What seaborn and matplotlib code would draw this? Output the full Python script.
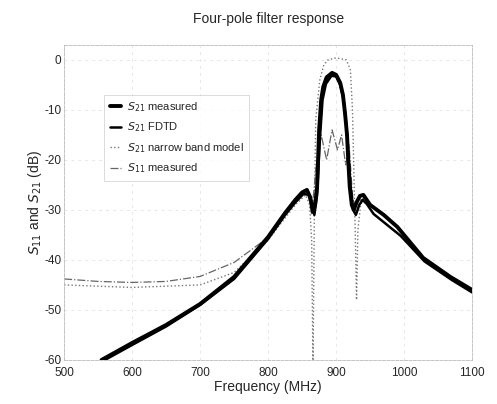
import numpy as np
import pandas as pd
import matplotlib
matplotlib.use("Agg")
import matplotlib.pyplot as plt
import seaborn as sns

# values (frequency in MHz, level in dB)
s21_meas_f = [555, 600, 650, 700, 750, 800, 825, 840, 850, 857, 862, 866, 869, 872, 875, 878, 881, 886,
              894, 900, 906, 910, 913, 916, 918, 920, 923, 926, 930, 935, 940, 950, 970, 990, 1028, 1068, 1100]
s21_meas_db = [-60, -56.6, -53, -48.8, -43.4, -35.4, -30.6, -28, -26.5, -26, -27.5, -30.4, -29, -25.4, -14, -8, -5.4, -3.5,
               -2.6, -3, -4.6, -7, -10.6, -15, -20.6, -25.4, -29, -30, -28.5, -27.2, -27, -29, -31, -33.4, -39.6, -43.4, -46]

s21_fdtd_f = [560, 600, 650, 700, 750, 800, 825, 840, 852, 860, 865, 868, 872, 876, 880, 885, 893, 900, 906,
              911, 915, 918, 921, 925, 929, 934, 939, 945, 955, 975, 995, 1030, 1070, 1100]
s21_fdtd_db = [-60, -57, -53.3, -49, -43.8, -35.8, -31, -28.5, -26.8, -27, -29.5, -31, -27, -16, -8, -4.8, -3.2, -3.3, -5,
               -8, -13, -19, -25, -30, -31, -29, -28, -28.8, -30.8, -33, -35.2, -40.3, -44, -46.5]

s21_model_f = [500, 600, 700, 750, 800, 840, 855, 861, 864, 866, 868, 870, 876, 882, 888, 900, 915, 921,
               924, 926, 928, 930, 932, 936, 942]
s21_model_db = [-45, -45.5, -45, -42.5, -36, -29, -27, -29, -36, -62, -30, -12, -4, -1, 0, 0.4, 0, -2,
                -10, -22, -34, -48, -34, -29, -27.5]

s11_meas_f = [500, 550, 600, 650, 700, 750, 780, 800, 820, 845, 858, 864, 870, 878, 886, 894, 902, 908,
              914, 919, 924, 929, 936, 945]
s11_meas_db = [-43.8, -44.3, -44.5, -44.3, -43.3, -40.5, -37.5, -35.5, -31.5, -27.2, -26.3, -31, -22, -15, -20, -14, -18, -15,
               -21, -17, -27, -31, -28, -27.5]

labels = ["$S_{21}$ measured", "$S_{21}$ FDTD", "$S_{21}$ narrow band model", "$S_{11}$ measured"]

sns.set_style("white")
plt.rcParams["font.family"] = ["Liberation Sans", "DejaVu Sans"]
plt.rcParams["axes.unicode_minus"] = False

fig = plt.figure(figsize=(4.97, 4.04), dpi=100)
ax = fig.add_axes([0.129, 0.109, 0.821, 0.78])

sns.lineplot(x=s21_model_f, y=s21_model_db, ax=ax, color="#777777", lw=1.0, ls=":", label=labels[2],
             sort=False, zorder=2)
sns.lineplot(x=s11_meas_f, y=s11_meas_db, ax=ax, color="#666666", lw=0.9, ls="-.", label=labels[3],
             sort=False, zorder=2)
sns.lineplot(x=s21_fdtd_f, y=s21_fdtd_db, ax=ax, color="black", lw=1.8, label=labels[1],
             sort=False, zorder=3)
sns.lineplot(x=s21_meas_f, y=s21_meas_db, ax=ax, color="black", lw=2.8, label=labels[0],
             sort=False, zorder=4)

ax.set_xlim(500, 1100)
ax.set_ylim(-60, 3)
ax.set_xticks(np.arange(500, 1101, 100))
ax.set_yticks(np.arange(-60, 1, 10))
ax.grid(True, ls=(0, (4, 6)), color="#dddddd", lw=0.5)
for s in ax.spines.values():
    s.set_color("#bbbbbb")
    s.set_linestyle("--")
    s.set_linewidth(0.6)
ax.tick_params(direction="in", length=3, labelsize=8.5, color="black")
ax.tick_params(axis="x", pad=5)
ax.tick_params(axis="y", pad=2)

ax.set_title("Four-pole filter response", fontsize=10, pad=16)
ax.set_xlabel("Frequency (MHz)", fontsize=10, labelpad=1)
ax.set_ylabel("$S_{11}$ and $S_{21}$ (dB)", fontsize=10, labelpad=0)

handles, labs = ax.get_legend_handles_labels()
order = [labs.index(l) for l in labels]
leg = ax.legend([handles[i] for i in order], [labs[i] for i in order],
                loc="upper left", bbox_to_anchor=(0.085, 0.86), fontsize=8,
                handlelength=1.0, handletextpad=0.5, labelspacing=0.6,
                frameon=True, fancybox=False, borderpad=0.5)
leg.get_frame().set_edgecolor("#cccccc")
leg.get_frame().set_linewidth(0.6)

fig.savefig("out.png", dpi=100)
